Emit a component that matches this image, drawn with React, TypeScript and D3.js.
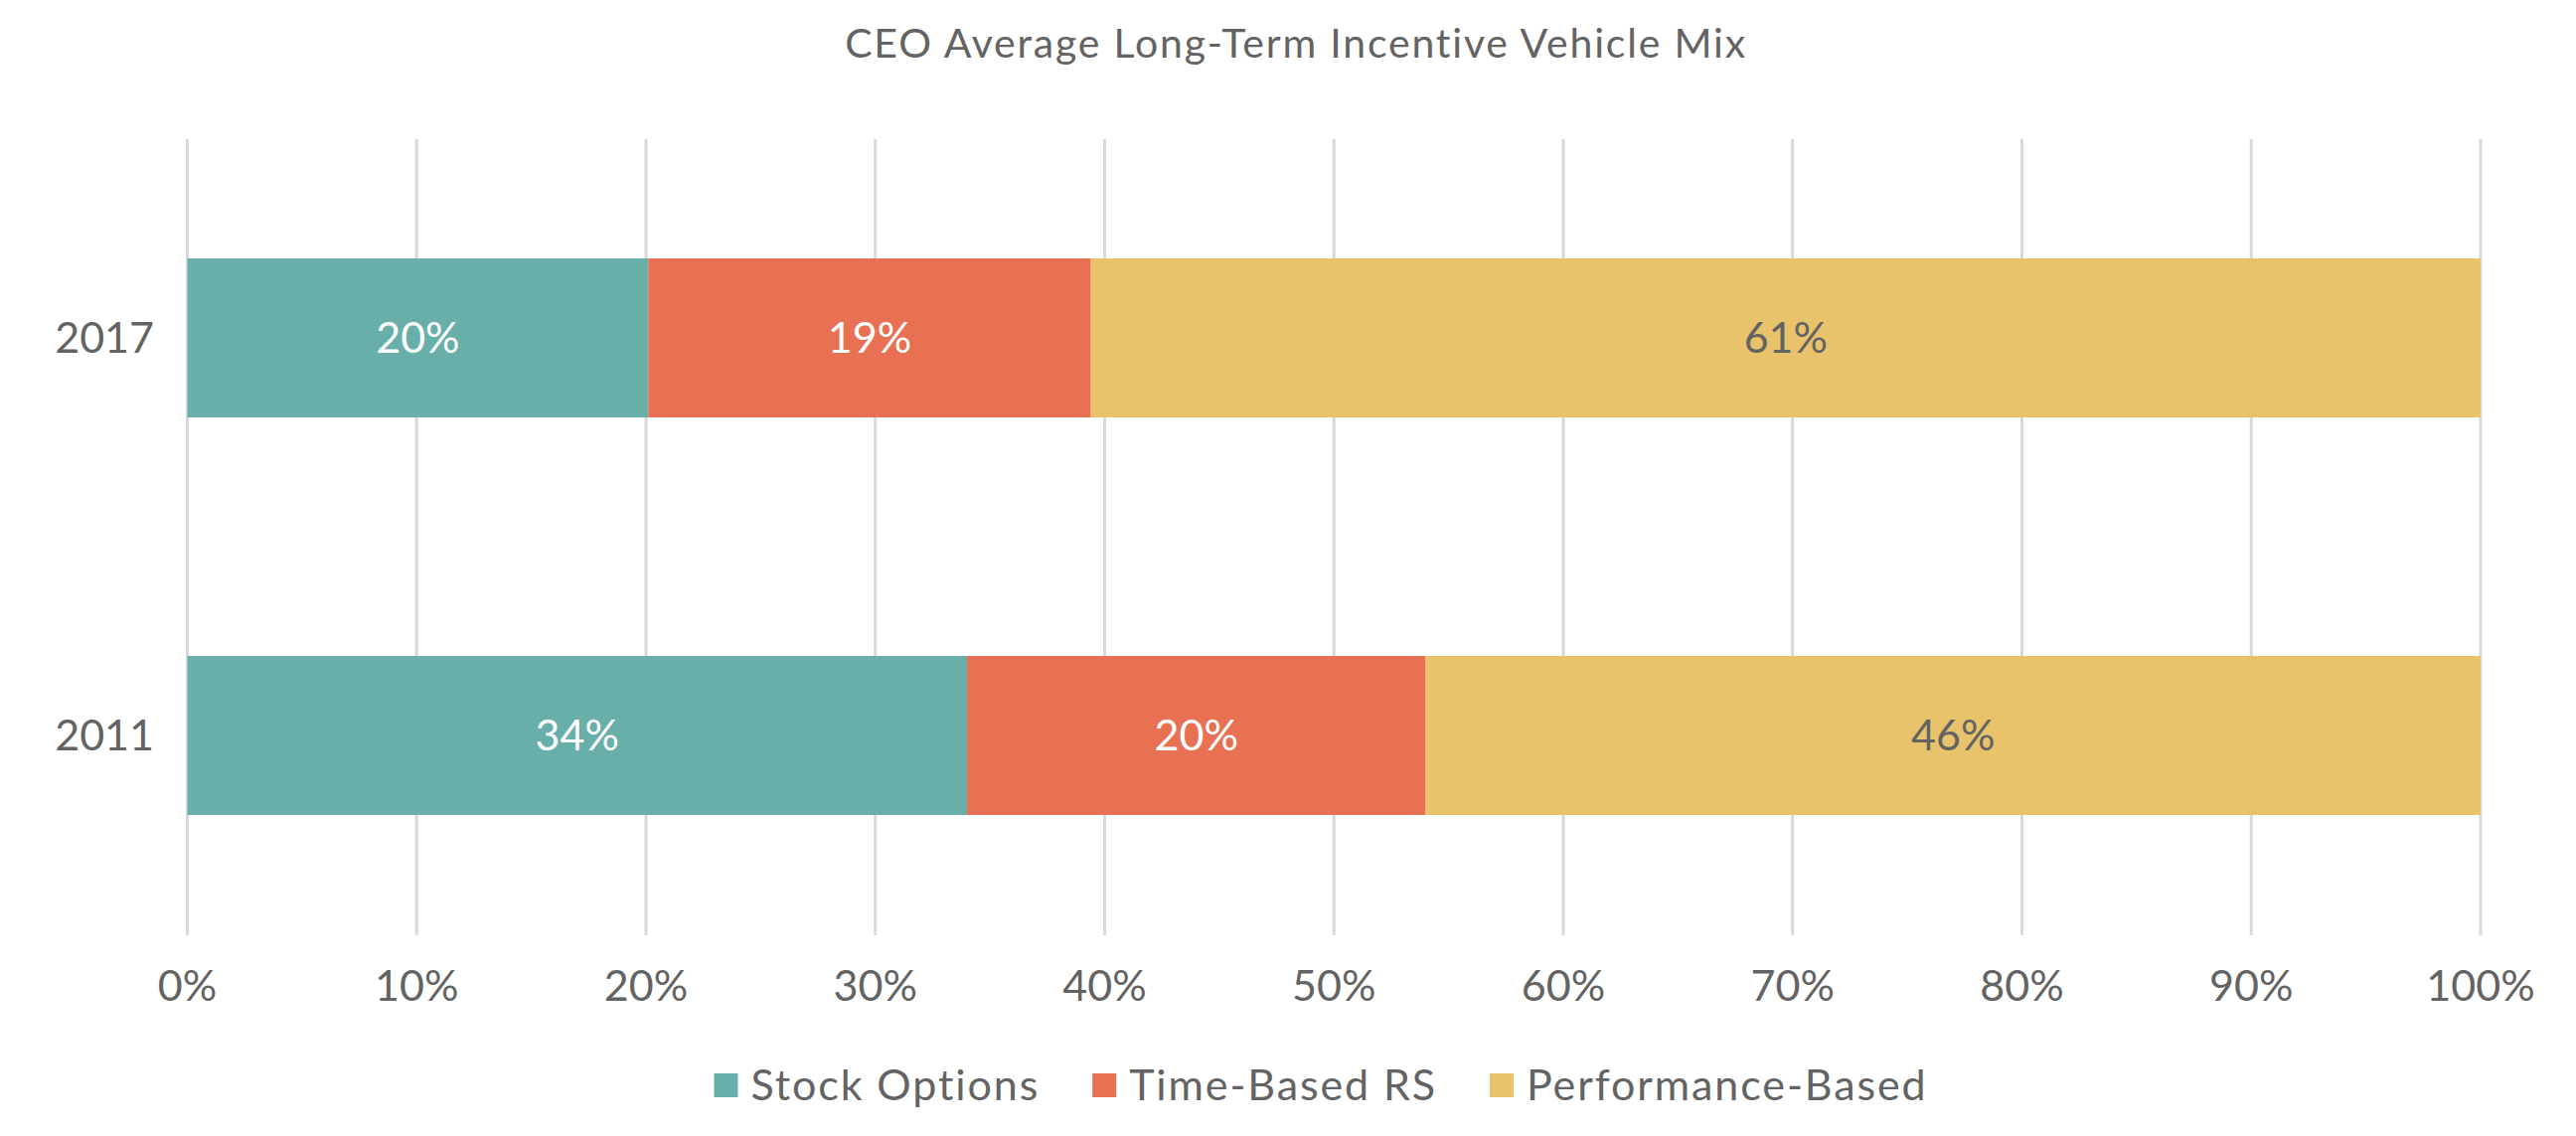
import React, { useEffect, useRef } from 'react';
import * as d3 from 'd3';

const categories = ['2017', '2011'];
const seriesNames = ['Stock Options', 'Time-Based RS', 'Performance-Based'];
const stockOptions = [20.1, 34.0];
const timeBasedRS = [19.3, 20.0];
const performanceBased = [60.6, 46.0];
const xTicks = [0, 10, 20, 30, 40, 50, 60, 70, 80, 90, 100];

const colors = ['#68AFAA', '#E87153', '#E9C36B'];
const labelColors = ['#FFFFFF', '#FFFFFF', '#636363'];

export default function App() {
  const svgRef = useRef<SVGSVGElement>(null);

  useEffect(() => {
    if (!svgRef.current) return;
    const svg = d3.select(svgRef.current);
    svg.selectAll('*').remove();

    const width = 2592;
    const font = 'Lato, "Open Sans", sans-serif';
    const textColor = '#636363';

    const x = d3.scaleLinear().domain([0, 100]).range([188.5, 2496]);
    const y = d3.scaleBand<string>()
      .domain(categories)
      .range([140, 940])
      .paddingInner(0.6)
      .paddingOuter(0.3);

    // title
    svg.append('text')
      .attr('x', 1304)
      .attr('y', 44)
      .attr('dy', '0.35em')
      .attr('text-anchor', 'middle')
      .attr('font-family', font)
      .attr('font-size', 41)
      .attr('letter-spacing', 1.8)
      .attr('fill', textColor)
      .text('CEO Average Long-Term Incentive Vehicle Mix');

    // gridlines
    svg.append('g')
      .selectAll('line')
      .data(xTicks)
      .enter()
      .append('line')
      .attr('x1', d => x(d))
      .attr('x2', d => x(d))
      .attr('y1', 140)
      .attr('y2', 941)
      .attr('stroke', '#D9D9D9')
      .attr('stroke-width', 3);

    // tick labels
    svg.append('g')
      .selectAll('text')
      .data(xTicks)
      .enter()
      .append('text')
      .attr('x', d => x(d))
      .attr('y', 992)
      .attr('dy', '0.35em')
      .attr('text-anchor', 'middle')
      .attr('font-family', font)
      .attr('font-size', 43)
      .attr('fill', textColor)
      .text(d => `${d}%`);

    // category labels
    svg.append('g')
      .selectAll('text')
      .data(categories)
      .enter()
      .append('text')
      .attr('x', 155)
      .attr('y', d => (y(d) as number) + y.bandwidth() / 2)
      .attr('dy', '0.35em')
      .attr('text-anchor', 'end')
      .attr('font-family', font)
      .attr('font-size', 43)
      .attr('fill', textColor)
      .text(d => d);

    // stacked bars
    const rows = categories.map((c, i) => ({
      category: c,
      'Stock Options': stockOptions[i],
      'Time-Based RS': timeBasedRS[i],
      'Performance-Based': performanceBased[i],
    }));
    const stacked = d3.stack<any>().keys(seriesNames)(rows);

    stacked.forEach((layer, si) => {
      const g = svg.append('g');
      g.selectAll('rect')
        .data(layer)
        .enter()
        .append('rect')
        .attr('x', d => x(d[0]))
        .attr('width', d => x(d[1]) - x(d[0]))
        .attr('y', d => y(d.data.category) as number)
        .attr('height', y.bandwidth())
        .attr('fill', colors[si]);

      g.selectAll('text')
        .data(layer)
        .enter()
        .append('text')
        .attr('x', d => (x(d[0]) + x(d[1])) / 2)
        .attr('y', d => (y(d.data.category) as number) + y.bandwidth() / 2)
        .attr('dy', '0.35em')
        .attr('text-anchor', 'middle')
        .attr('font-family', font)
        .attr('font-size', 43)
        .attr('fill', labelColors[si])
        .text(d => `${Math.round(d[1] - d[0])}%`);
    });

    // legend
    const legend = svg.append('g');
    const sq = 24;
    const textGap = 13;
    const itemGap = 53;
    let cursor = 0;
    seriesNames.forEach((name, i) => {
      const item = legend.append('g').attr('transform', `translate(${cursor},0)`);
      item.append('rect')
        .attr('x', 0)
        .attr('y', -sq / 2)
        .attr('width', sq)
        .attr('height', sq)
        .attr('fill', colors[i]);
      const t = item.append('text')
        .attr('x', sq + textGap)
        .attr('y', 0)
        .attr('dy', '0.35em')
        .attr('font-family', font)
        .attr('font-size', 43)
        .attr('letter-spacing', 1.9)
        .attr('fill', textColor)
        .text(name);
      const w = (t.node() as SVGTextElement).getComputedTextLength();
      cursor += sq + textGap + w + itemGap;
    });
    const total = cursor - itemGap;
    legend.attr('transform', `translate(${1329 - total / 2},1092)`);
  }, []);

  return (
    <svg
      ref={svgRef}
      width={2592}
      height={1143}
      style={{ position: 'absolute', left: 0, top: 0, background: '#fff' }}
    />
  );
}
